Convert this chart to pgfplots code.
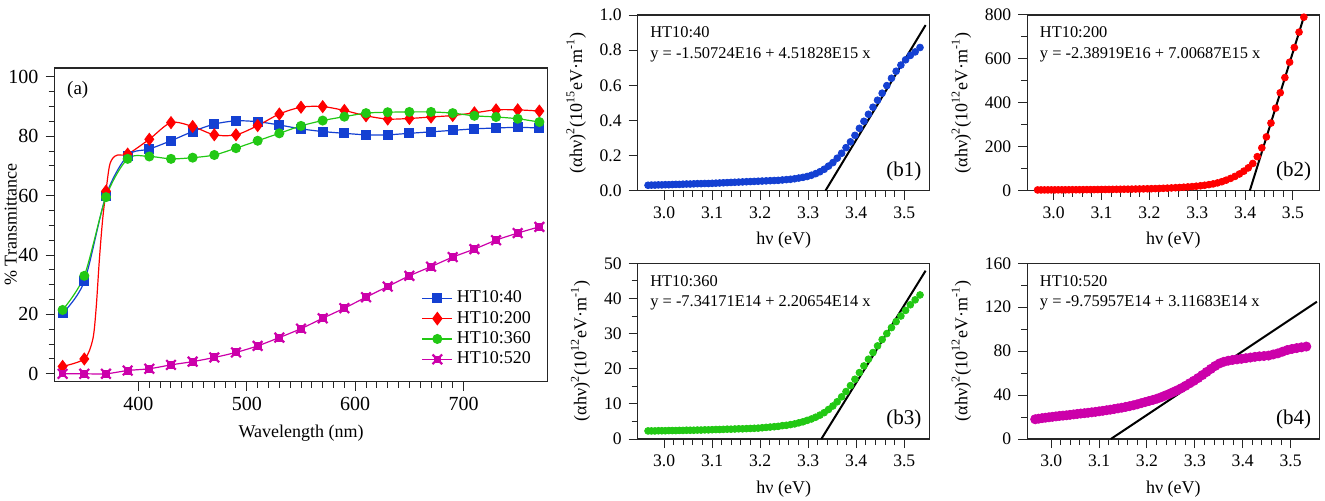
\documentclass[border=0pt]{standalone}
\usepackage{pgfplots}
\pgfplotsset{compat=1.18}
\usepackage{pgfplotstable}
\usepackage{fontspec}
\setmainfont{Liberation Serif}

\definecolor{cblue}{RGB}{20,64,210}
\definecolor{cred}{RGB}{255,0,0}
\definecolor{cgreen}{RGB}{34,200,20}
\definecolor{cmag}{RGB}{204,0,170}

% filled square with a cross through it (HT10:520 marker)
\pgfdeclareplotmark{xsq}{%
  \pgfpathrectangle{\pgfqpoint{-0.6\pgfplotmarksize}{-0.6\pgfplotmarksize}}{\pgfqpoint{1.2\pgfplotmarksize}{1.2\pgfplotmarksize}}%
  \pgfusepathqfillstroke
  \pgfsetlinewidth{1.1pt}%
  \pgfpathmoveto{\pgfqpoint{-\pgfplotmarksize}{-\pgfplotmarksize}}%
  \pgfpathlineto{\pgfqpoint{\pgfplotmarksize}{\pgfplotmarksize}}%
  \pgfpathmoveto{\pgfqpoint{-\pgfplotmarksize}{\pgfplotmarksize}}%
  \pgfpathlineto{\pgfqpoint{\pgfplotmarksize}{-\pgfplotmarksize}}%
  \pgfusepathqstroke
}

% transmittance, markers every 20 nm
\pgfplotstableread{
nm   t40   t200  t360  t520
330  20.4  2.5   21.5  0.0
350  31.1  5.0   33.0  0.0
370  60.0  61.5  59.5  0.0
390  73.5  74.0  72.4  1.1
410  75.7  79.0  73.2  1.7
430  78.5  84.6  72.4  3.0
450  81.6  83.3  72.8  4.1
470  84.1  80.5  73.7  5.5
490  85.2  80.5  76.0  7.2
510  84.9  83.6  78.5  9.4
530  83.8  87.5  81.0  12.2
550  82.5  89.8  83.5  15.2
570  81.6  90.0  85.3  18.7
590  81.0  88.7  86.6  22.1
610  80.5  86.9  87.8  25.8
630  80.5  85.8  88.1  29.4
650  81.0  86.0  88.2  33.0
670  81.5  86.5  88.2  36.1
690  82.0  87.0  87.8  39.3
710  82.5  87.9  86.9  42.0
730  82.8  88.9  86.5  45.0
750  83.0  88.9  85.9  47.4
770  82.8  88.5  84.8  49.5
}\trans

% (alpha h nu)^2 against photon energy
\pgfplotstableread{
E      b1     b2    b3    b4
2.9665 0.031  3.5   2.30  18.0
2.9736 0.032  3.5   2.30  18.5
2.9808 0.032  3.6   2.30  19.0
2.9880 0.033  3.6   2.35  19.4
2.9952 0.033  3.7   2.35  19.8
3.0024 0.034  3.8   2.35  20.2
3.0097 0.034  3.9   2.40  20.6
3.0170 0.035  4.0   2.40  21.0
3.0244 0.036  4.1   2.40  21.3
3.0318 0.036  4.2   2.45  21.6
3.0392 0.037  4.3   2.45  22.0
3.0467 0.038  4.4   2.50  22.4
3.0542 0.038  4.5   2.50  22.8
3.0617 0.039  4.6   2.50  23.2
3.0693 0.040  4.8   2.55  23.5
3.0769 0.040  4.9   2.55  23.9
3.0846 0.041  5.1   2.60  24.3
3.0923 0.041  5.3   2.60  24.7
3.1000 0.042  5.5   2.65  25.2
3.1078 0.043  5.7   2.70  25.7
3.1156 0.044  5.9   2.70  26.2
3.1234 0.045  6.1   2.75  26.7
3.1313 0.046  6.3   2.80  27.3
3.1392 0.047  6.5   2.80  27.9
3.1472 0.048  6.8   2.85  28.5
3.1552 0.049  7.0   2.90  29.2
3.1633 0.050  7.3   2.90  29.9
3.1714 0.051  7.6   2.95  30.7
3.1795 0.052  7.9   3.00  31.6
3.1877 0.053  8.3   3.05  32.6
3.1959 0.054  8.7   3.10  33.6
3.2041 0.055  9.1   3.20  34.6
3.2124 0.056  9.6   3.30  35.6
3.2208 0.057  10.2  3.40  36.7
3.2292 0.058  10.9  3.50  38.0
3.2376 0.059  11.7  3.60  39.5
3.2461 0.061  12.6  3.80  41.0
3.2546 0.063  13.6  3.90  42.7
3.2632 0.065  14.7  4.10  44.4
3.2718 0.068  15.9  4.30  46.3
3.2804 0.072  17.2  4.60  48.4
3.2891 0.076  18.7  4.90  50.7
3.2979 0.081  20.4  5.30  53.0
3.3067 0.088  22.4  5.70  55.5
3.3155 0.097  24.8  6.20  58.2
3.3244 0.108  27.6  6.80  61.0
3.3333 0.122  31.0  7.50  63.8
3.3423 0.140  35.5  8.40  66.5
3.3514 0.160  41.0  9.40  68.8
3.3604 0.185  48.0  10.6  70.3
3.3696 0.213  56.0  12.0  71.3
3.3787 0.245  65.0  13.5  72.0
3.3880 0.278  76.0  15.2  72.5
3.3973 0.315  89.0  17.0  73.0
3.4066 0.355  104   18.9  73.6
3.4160 0.395  124   20.8  74.2
3.4254 0.435  155   22.7  74.8
3.4349 0.475  195   24.6  75.3
3.4444 0.515  245   26.5  75.6
3.4540 0.555  308   28.3  76.0
3.4637 0.598  376   30.0  77.0
3.4734 0.640  446   31.7  78.0
3.4831 0.680  515   33.4  79.5
3.4930 0.715  585   35.0  81.0
3.5028 0.745  652   36.6  82.0
3.5127 0.770  722   38.2  82.8
3.5227 0.790  790   39.6  83.5
3.5328 0.815  nan   41.0  84.2
}\absdata

\pgfplotsset{
  common/.style={
    anchor=south west, scale only axis,
    tick pos=left, tick align=outside,
    major tick length=4.5pt, minor tick length=3pt,
    axis line style={line width=0.6pt, black!85},
    tick style={line width=0.5pt, black!85},
    /pgf/number format/assume math mode=true,
  },
  bpanel/.style={
    common, width=146pt, height=87.85pt,
    xmin=2.945, xmax=3.553,
    xtick={3.0,3.1,3.2,3.3,3.4,3.5}, minor x tick num=4,
    xticklabel style={/pgf/number format/.cd, fixed, fixed zerofill, precision=1},
    tick label style={font=\rmfamily\fontsize{8.8}{10}\selectfont},
    label style={font=\rmfamily\fontsize{9}{10}\selectfont},
    xlabel={hν (eV)},
    clip=false,
  },
  fitline/.style={black, line width=1pt},
  dots/.style={only marks, mark=*, mark size=1.7pt, color=#1, mark options={fill=#1, draw=#1}},
}
\tikzset{
  annot/.style={anchor=west, inner sep=0pt, font=\rmfamily\fontsize{8.2}{10}\selectfont},
  tag/.style={anchor=east, inner sep=0pt, font=\rmfamily\fontsize{10.5}{12}\selectfont},
}

\begin{document}
\begin{tikzpicture}
\useasboundingbox (0,0) rectangle (662.5pt,250pt);

% ---- (a) transmittance ----
\begin{axis}[
  common,
  at={(27.25pt,59.25pt)}, width=246.5pt, height=156.75pt,
  xmin=322.5, xmax=777.5, ymin=-2.6, ymax=103,
  xtick={400,500,600,700}, minor x tick num=9,
  ytick={0,20,40,60,80,100}, minor y tick num=3,
  tick label style={font=\rmfamily\fontsize{10}{11}\selectfont},
  label style={font=\rmfamily\fontsize{9}{10}\selectfont},
  xlabel={Wavelength (nm)}, ylabel={\% Transmittance},
  every axis y label/.append style={at={(axis description cs:-0.062,0.5)}},
  legend style={at={(0.74,0.31)}, anchor=north west, draw=none, fill=none,
    font=\rmfamily\fontsize{9}{10}\selectfont, inner sep=1pt, row sep=-1.3pt},
  legend cell align=left,
  legend image code/.code={\draw[mark repeat=2,mark phase=2]
    plot coordinates {(0pt,0pt)(7.5pt,0pt)(15pt,0pt)};},
]
\addlegendimage{cblue, line width=0.6pt, mark=square*, mark size=2.2pt}
\addlegendimage{cred, line width=0.6pt, mark=diamond*, mark size=3pt}
\addlegendimage{cgreen, line width=0.6pt, mark=*, mark size=2.2pt}
\addlegendimage{cmag, line width=0.6pt, mark=xsq, mark size=2.4pt}
\legend{HT10:40, HT10:200, HT10:360, HT10:520}

\addplot[cblue, line width=0.6pt, smooth, mark=square*, mark size=2.2pt, forget plot]
  table[x=nm, y=t40] {\trans};
% red trace, with extra points read along its steep edge
\addplot[cred, line width=0.6pt, smooth, forget plot] coordinates {
  (330,2.5) (350,5.0) (357.7,11.4) (360.8,21.5) (363.9,38.4) (366.9,51.9)
  (370,61.5) (373.1,69.8) (376.2,72.6) (380.8,73.7) (390,74.0) (410,79.0)
  (430,84.6) (450,83.3) (470,80.5) (490,80.5) (510,83.6) (530,87.5)
  (550,89.8) (570,90.0) (590,88.7) (610,86.9) (630,85.8) (650,86.0)
  (670,86.5) (690,87.0) (710,87.9) (730,88.9) (750,88.9) (770,88.5)};
\addplot[only marks, cred, mark=diamond*, mark size=3pt, forget plot]
  table[x=nm, y=t200] {\trans};
\addplot[cgreen, line width=0.6pt, smooth, mark=*, mark size=2.2pt, forget plot]
  table[x=nm, y=t360] {\trans};
\addplot[cmag, line width=0.6pt, smooth, mark=xsq, mark size=2.4pt, forget plot]
  table[x=nm, y=t520] {\trans};

\node[anchor=west, inner sep=0pt, font=\rmfamily\fontsize{9.5}{11}\selectfont] at (rel axis cs:0.025,0.93) {(a)};
\end{axis}

% ---- (b1) ----
\begin{axis}[
  bpanel, at={(318.85pt,154.65pt)},
  ymin=0, ymax=1, ytick={0,0.2,0.4,0.6,0.8,1.0},
  yticklabel style={/pgf/number format/.cd, fixed, fixed zerofill, precision=1},
  ylabel={(αhν)\textsuperscript{2}(10\textsuperscript{15}eV·m\textsuperscript{-1})},
]
\addplot[dots=cblue] table[x=E, y=b1] {\absdata};
\addplot[fitline] coordinates {(3.3359,0) (3.5445,0.9427)};
\node[annot] at (rel axis cs:0.042,0.9) {HT10:40};
\node[annot] at (rel axis cs:0.042,0.775) {y = -1.50724E16 + 4.51828E15 x};
\node[tag] at (rel axis cs:0.973,0.11) {(b1)};
\end{axis}

% ---- (b2) ----
\begin{axis}[
  bpanel, at={(513.65pt,154.65pt)}, xmax=3.555,
  ymin=0, ymax=800, ytick={0,200,400,600,800}, minor y tick num=1,
  ylabel={(αhν)\textsuperscript{2}(10\textsuperscript{12}eV·m\textsuperscript{-1})},
]
\addplot[dots=cred] table[x=E, y=b2] {\absdata};
\addplot[fitline] coordinates {(3.4098,0) (3.5240,800)};
\node[annot] at (rel axis cs:0.042,0.9) {HT10:200};
\node[annot] at (rel axis cs:0.042,0.775) {y = -2.38919E16 + 7.00687E15 x};
\node[tag] at (rel axis cs:0.973,0.11) {(b2)};
\end{axis}

% ---- (b3) ----
\begin{axis}[
  bpanel, at={(318.85pt,30.5pt)},
  ymin=0, ymax=50, ytick={0,10,20,30,40,50}, minor y tick num=1,
  ylabel={(αhν)\textsuperscript{2}(10\textsuperscript{12}eV·m\textsuperscript{-1})},
]
\addplot[dots=cgreen] table[x=E, y=b3] {\absdata};
\addplot[fitline] coordinates {(3.3273,0) (3.5445,47.9)};
\node[annot] at (rel axis cs:0.042,0.9) {HT10:360};
\node[annot] at (rel axis cs:0.042,0.775) {y = -7.34171E14 + 2.20654E14 x};
\node[tag] at (rel axis cs:0.973,0.11) {(b3)};
\end{axis}

% ---- (b4) ----
\begin{axis}[
  bpanel, at={(513.65pt,30.5pt)}, xmin=2.95, xmax=3.56,
  ymin=0, ymax=160, ytick={0,40,80,120,160}, minor y tick num=1,
  ylabel={(αhν)\textsuperscript{2}(10\textsuperscript{12}eV·m\textsuperscript{-1})},
]
\addplot[dots=cmag, mark size=2.3pt] table[x=E, y=b4] {\absdata};
\addplot[fitline] coordinates {(3.1244,0) (3.555,125)};
\node[annot] at (rel axis cs:0.042,0.9) {HT10:520};
\node[annot] at (rel axis cs:0.042,0.775) {y = -9.75957E14 + 3.11683E14 x};
\node[tag] at (rel axis cs:0.973,0.11) {(b4)};
\end{axis}
\end{tikzpicture}
\end{document}
